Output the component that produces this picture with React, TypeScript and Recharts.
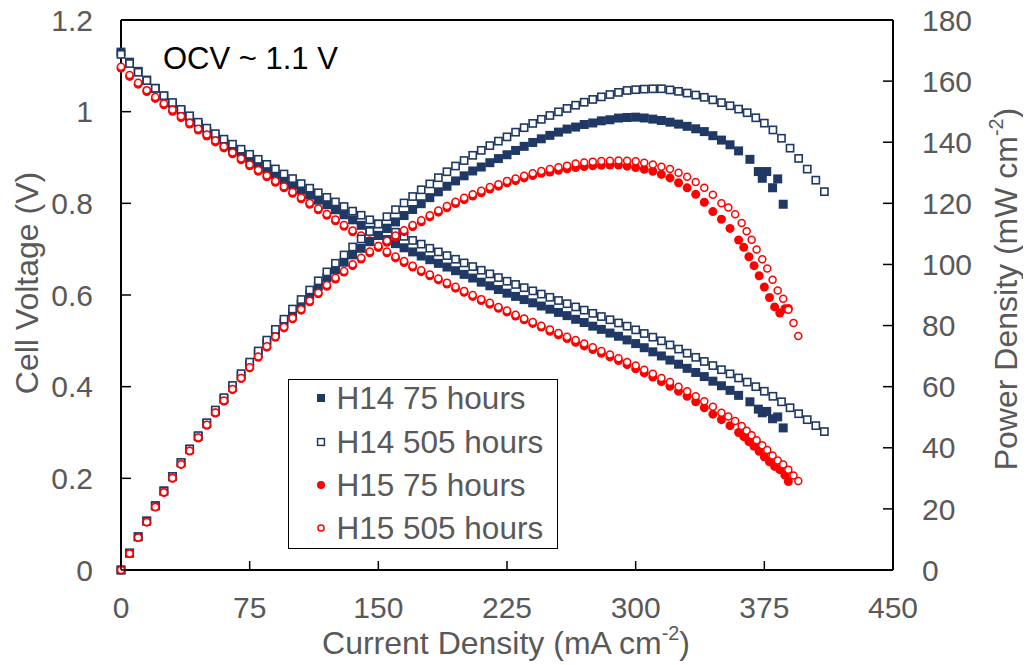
import React from 'react';
import { ScatterChart, Scatter, XAxis, YAxis, ReferenceLine } from 'recharts';

// ---------- data ----------
const CURRENT = [
  0, 5, 10, 15, 20, 25, 30, 35, 40, 45,
  50, 55, 60, 65, 70, 75, 80, 85, 90, 95,
  100, 105, 110, 115, 120, 125, 130, 135, 140, 145,
  150, 155, 160, 165, 170, 175, 180, 185, 190, 195,
  200, 205, 210, 215, 220, 225, 230, 235, 240, 245,
  250, 255, 260, 265, 270, 275, 280, 285, 290, 295,
  300, 305, 310, 315, 320, 325, 330, 335, 340, 345,
  350, 355, 360, 365, 370, 375, 380, 385, 390, 395,
  400, 405, 410,
];

const X_TICKS = [0, 75, 150, 225, 300, 375, 450];
const V_TICKS = [0, 0.2, 0.4, 0.6, 0.8, 1, 1.2];
const P_TICKS = [0, 20, 40, 60, 80, 100, 120, 140, 160, 180];

const SERIES_NAMES = ['H14 75 hours', 'H14 505 hours', 'H15 75 hours', 'H15 505 hours'];

// H14 75 hours (filled navy squares)
const H14_75_V = [
  1.130, 1.108, 1.088, 1.069, 1.051, 1.034, 1.018, 1.002, 0.987, 0.972,
  0.958, 0.945, 0.932, 0.920, 0.908, 0.896, 0.885, 0.873, 0.862, 0.851,
  0.840, 0.829, 0.818, 0.807, 0.797, 0.786, 0.775, 0.764, 0.752, 0.741,
  0.730, 0.721, 0.712, 0.703, 0.694, 0.685, 0.677, 0.669, 0.661, 0.653,
  0.645, 0.637, 0.628, 0.620, 0.612, 0.604, 0.597, 0.590, 0.583, 0.576,
  0.569, 0.562, 0.555, 0.547, 0.540, 0.532, 0.525, 0.517, 0.510, 0.502,
  0.494, 0.485, 0.476, 0.467, 0.458, 0.449, 0.440, 0.431, 0.422, 0.412,
  0.402, 0.392, 0.381,
];
const H14_75_P = [
  0, 5.54, 10.88, 16.04, 21.02, 25.85, 30.54, 35.07, 39.48, 43.74,
  47.90, 51.98, 55.92, 59.80, 63.56, 67.20, 70.80, 74.21, 77.58, 80.85,
  84.00, 87.05, 89.98, 92.81, 95.64, 98.25, 100.75, 103.14, 105.28, 107.45,
  109.50, 111.76, 113.92, 116.00, 117.98, 119.88, 121.86, 123.77, 125.59, 127.34,
  129.00, 130.59, 131.88, 133.30, 134.64, 135.90, 137.31, 138.65, 139.92, 141.12,
  142.25, 143.31, 144.30, 144.96, 145.80, 146.30, 147.00, 147.35, 147.90, 148.09,
  148.20, 147.93, 147.56, 147.11, 146.56, 145.93, 145.20, 144.39, 143.48, 142.14,
  140.70, 139.16, 137.16,
];
const H14_75_TAIL_J = [366.6, 371.5, 373.8, 376.4, 379.8, 382.8, 386];
const H14_75_TAIL_V = [0.367, 0.351, 0.343, 0.346, 0.330, 0.334, 0.310];
const H14_75_TAIL_P = [134.4, 130.4, 128.2, 130.4, 125.1, 128.0, 119.7];

// H14 505 hours (open navy squares)
const H14_505_V = [
  1.125, 1.105, 1.086, 1.068, 1.051, 1.035, 1.020, 1.005, 0.991, 0.977,
  0.964, 0.952, 0.940, 0.929, 0.918, 0.907, 0.896, 0.885, 0.875, 0.864,
  0.854, 0.843, 0.833, 0.823, 0.813, 0.803, 0.793, 0.783, 0.774, 0.764,
  0.755, 0.746, 0.737, 0.728, 0.719, 0.711, 0.702, 0.694, 0.686, 0.678,
  0.670, 0.662, 0.654, 0.646, 0.638, 0.630, 0.623, 0.616, 0.609, 0.602,
  0.595, 0.588, 0.581, 0.574, 0.567, 0.560, 0.553, 0.546, 0.539, 0.532,
  0.524, 0.516, 0.508, 0.500, 0.491, 0.482, 0.473, 0.464, 0.455, 0.446,
  0.437, 0.428, 0.419, 0.410, 0.400, 0.390, 0.379, 0.367, 0.354, 0.341,
  0.328, 0.315, 0.302,
];
const H14_505_P = [
  0, 5.53, 10.86, 16.02, 21.02, 25.88, 30.60, 35.18, 39.64, 43.97,
  48.20, 52.36, 56.40, 60.39, 64.26, 68.03, 71.68, 75.23, 78.75, 82.08,
  85.40, 88.52, 91.63, 94.65, 97.56, 100.38, 103.09, 105.71, 108.36, 110.78,
  113.25, 115.63, 117.92, 120.12, 122.23, 124.43, 126.36, 128.39, 130.34, 132.21,
  134.00, 135.71, 137.34, 138.89, 140.36, 141.75, 143.29, 144.76, 146.16, 147.49,
  148.75, 149.94, 151.06, 152.11, 153.09, 154.00, 154.84, 155.61, 156.31, 156.94,
  157.20, 157.38, 157.48, 157.50, 157.12, 156.65, 156.09, 155.44, 154.70, 153.87,
  152.95, 151.94, 150.84, 149.65, 148.00, 146.25, 144.02, 141.30, 138.06, 134.70,
  131.20, 127.58, 123.82,
];

// H15 75 hours (filled red circles)
const H15_75_V = [
  1.095, 1.077, 1.060, 1.044, 1.029, 1.015, 1.001, 0.987, 0.973, 0.960,
  0.947, 0.934, 0.921, 0.908, 0.895, 0.882, 0.870, 0.858, 0.846, 0.834,
  0.822, 0.810, 0.798, 0.786, 0.774, 0.762, 0.750, 0.738, 0.727, 0.716,
  0.704, 0.692, 0.681, 0.671, 0.661, 0.651, 0.642, 0.633, 0.624, 0.615,
  0.606, 0.597, 0.588, 0.580, 0.571, 0.563, 0.554, 0.546, 0.538, 0.530,
  0.521, 0.513, 0.505, 0.497, 0.489, 0.481, 0.473, 0.465, 0.457, 0.448,
  0.439, 0.430, 0.421, 0.411, 0.401, 0.390, 0.379, 0.367, 0.354, 0.340,
];
const H15_75_P = [
  0, 5.39, 10.60, 15.66, 20.58, 25.38, 30.03, 34.55, 38.92, 43.20,
  47.35, 51.37, 55.26, 59.02, 62.65, 66.15, 69.60, 72.93, 76.14, 79.23,
  82.20, 85.05, 87.78, 90.39, 92.88, 95.25, 97.50, 99.63, 101.78, 103.82,
  105.60, 107.26, 108.96, 110.72, 112.37, 113.93, 115.56, 117.11, 118.56, 119.93,
  121.20, 122.39, 123.48, 124.70, 125.62, 126.68, 127.42, 128.31, 129.12, 129.85,
  130.25, 130.82, 131.30, 131.71, 132.03, 132.28, 132.44, 132.53, 132.53, 132.16,
  131.70, 131.15, 130.51, 129.47, 128.32, 126.75, 125.07, 122.95, 120.36, 117.30,
];
const H15_75_TAIL_J = [350, 355, 360, 363, 366, 369, 372, 375, 378, 381, 384, 387, 389];
const H15_75_TAIL_V = [0.328, 0.315, 0.300, 0.291, 0.280, 0.270, 0.259, 0.247, 0.236, 0.226, 0.219, 0.207, 0.193];
const H15_75_TAIL_P = [114.8, 111.8, 108.0, 105.6, 102.5, 99.6, 96.3, 92.6, 89.2, 86.1, 84.1, 85.5, 85.6];

// H15 505 hours (open red circles)
const H15_505_V = [
  1.098, 1.080, 1.063, 1.047, 1.032, 1.018, 1.004, 0.990, 0.976, 0.963,
  0.950, 0.937, 0.924, 0.911, 0.898, 0.885, 0.873, 0.861, 0.849, 0.837,
  0.825, 0.813, 0.801, 0.789, 0.777, 0.765, 0.753, 0.741, 0.730, 0.719,
  0.707, 0.695, 0.684, 0.674, 0.664, 0.654, 0.645, 0.636, 0.627, 0.618,
  0.609, 0.600, 0.591, 0.583, 0.574, 0.566, 0.557, 0.549, 0.541, 0.533,
  0.525, 0.517, 0.509, 0.502, 0.494, 0.486, 0.478, 0.470, 0.462, 0.454,
  0.446, 0.437, 0.428, 0.419, 0.410, 0.400, 0.390, 0.379, 0.368, 0.356,
  0.343,
];
const H15_505_P = [
  0, 5.40, 10.63, 15.71, 20.64, 25.45, 30.12, 34.65, 39.04, 43.34,
  47.50, 51.54, 55.44, 59.22, 62.86, 66.38, 69.84, 73.19, 76.41, 79.52,
  82.50, 85.37, 88.11, 90.74, 93.24, 95.63, 97.89, 100.04, 102.20, 104.26,
  106.05, 107.73, 109.44, 111.21, 112.88, 114.45, 116.10, 117.66, 119.13, 120.51,
  121.80, 123.00, 124.11, 125.35, 126.28, 127.35, 128.11, 129.02, 129.84, 130.59,
  131.25, 131.84, 132.34, 133.03, 133.38, 133.65, 133.84, 133.95, 133.98, 133.93,
  133.80, 133.29, 132.68, 131.99, 131.20, 130.00, 128.70, 126.97, 125.12, 122.82,
  120.05,
];
const H15_505_TAIL_J = [354, 358, 361.8, 364.7, 367.6, 370.5, 373.8, 376.7, 379.8, 382.8, 386, 389, 392, 394.8];
const H15_505_TAIL_V = [0.335, 0.325, 0.314, 0.304, 0.294, 0.283, 0.272, 0.262, 0.250, 0.239, 0.230, 0.219, 0.206, 0.194];
const H15_505_TAIL_P = [118.6, 116.4, 113.6, 110.9, 108.1, 104.9, 101.7, 98.7, 95.0, 91.5, 88.8, 85.2, 80.8, 76.6];

// ---------- helpers ----------
type Pt = { x: number; y: number };
function build(vals: number[], tailJ: number[] = [], tailVals: number[] = []): Pt[] {
  const pts: Pt[] = vals.map((y, i) => ({ x: CURRENT[i], y }));
  tailJ.forEach((x, i) => pts.push({ x, y: tailVals[i] }));
  return pts;
}

const NAVY = '#1F3864';
const RED = '#FF0000';
const GRAY = '#595959';
const FONT = '"Liberation Sans", Arial, Helvetica, sans-serif';

const W = 1015;
const H = 658;
const PLOT = { left: 113, right: 885, top: 20, bottom: 570 };

const FilledSquare = (p: any) =>
  p.cx == null ? <g /> : <rect x={p.cx - 4.5} y={p.cy - 4.5} width={9} height={9} fill={NAVY} />;
const OpenSquare = (p: any) =>
  p.cx == null ? <g /> : (
    <rect x={p.cx - 3.6} y={p.cy - 3.6} width={7.2} height={7.2} fill="#fff" stroke={NAVY} strokeWidth={1.6} />
  );
const FilledCircle = (p: any) =>
  p.cx == null ? <g /> : <circle cx={p.cx} cy={p.cy} r={4.5} fill={RED} />;
const OpenCircle = (p: any) =>
  p.cx == null ? <g /> : <circle cx={p.cx} cy={p.cy} r={3.5} fill="#fff" stroke={RED} strokeWidth={1.5} />;

const XTick = (p: any) => (
  <g>
    <line x1={p.x} x2={p.x} y1={PLOT.bottom} y2={PLOT.bottom - 9} stroke="#000" strokeWidth={1.5} />
    <text x={p.x} y={PLOT.bottom + 37 + 10.7} textAnchor="middle" fontSize={30} fill={GRAY} fontFamily={FONT}>
      {String(p.payload.value)}
    </text>
  </g>
);
const LeftTick = (p: any) => (
  <g>
    <line x1={PLOT.left} x2={PLOT.left + 10} y1={p.y} y2={p.y} stroke="#000" strokeWidth={1.5} />
    <text x={PLOT.left - 28} y={p.y + 10.7} textAnchor="end" fontSize={30} fill={GRAY} fontFamily={FONT}>
      {String(p.payload.value)}
    </text>
  </g>
);
const RightTick = (p: any) => (
  <g>
    <line x1={PLOT.right} x2={PLOT.right - 10} y1={p.y} y2={p.y} stroke="#000" strokeWidth={1.5} />
    <text x={PLOT.right + 29} y={p.y + 10.7} textAnchor="start" fontSize={30} fill={GRAY} fontFamily={FONT}>
      {String(p.payload.value)}
    </text>
  </g>
);

const LegendMarker = ({ kind }: { kind: number }) => (
  <svg width={12} height={12} style={{ position: 'absolute', left: -6, top: -6 }}>
    {kind === 0 && <rect x={2} y={2} width={8} height={8} fill={NAVY} />}
    {kind === 1 && <rect x={2.6} y={2.6} width={6.8} height={6.8} fill="#fff" stroke={NAVY} strokeWidth={1.5} />}
    {kind === 2 && <circle cx={6} cy={6} r={4} fill={RED} />}
    {kind === 3 && <circle cx={6} cy={6} r={3.1} fill="#fff" stroke={RED} strokeWidth={1.5} />}
  </svg>
);

const LEGEND_ROWS = [19, 63, 106, 149];

export default function App() {
  const vH14_75 = build(H14_75_V, H14_75_TAIL_J, H14_75_TAIL_V);
  const vH14_505 = build(H14_505_V);
  const vH15_75 = build(H15_75_V, H15_75_TAIL_J, H15_75_TAIL_V);
  const vH15_505 = build(H15_505_V, H15_505_TAIL_J, H15_505_TAIL_V);
  const pH14_75 = build(H14_75_P, H14_75_TAIL_J, H14_75_TAIL_P);
  const pH14_505 = build(H14_505_P);
  const pH15_75 = build(H15_75_P, H15_75_TAIL_J, H15_75_TAIL_P);
  const pH15_505 = build(H15_505_P, H15_505_TAIL_J, H15_505_TAIL_P);

  const titleStyle: React.CSSProperties = {
    position: 'absolute',
    whiteSpace: 'nowrap',
    fontSize: 32,
    lineHeight: 1,
    color: GRAY,
  };
  const sup: React.CSSProperties = { fontSize: '0.62em', position: 'relative', top: '-0.72em' };

  return (
    <div style={{ position: 'relative', top: -8, width: W, height: H, fontFamily: FONT, background: '#fff' }}>
      <ScatterChart width={W} height={H} margin={{ top: PLOT.top, right: 0, bottom: 0, left: 0 }}>
        <XAxis
          type="number"
          dataKey="x"
          domain={[0, 450]}
          ticks={X_TICKS}
          interval={0}
          height={88}
          tickLine={false}
          axisLine={{ stroke: '#000', strokeWidth: 2 }}
          tick={XTick}
        />
        <YAxis
          yAxisId="v"
          type="number"
          dataKey="y"
          orientation="left"
          domain={[0, 1.2]}
          ticks={V_TICKS}
          interval={0}
          width={113}
          tickLine={false}
          axisLine={{ stroke: '#000', strokeWidth: 2 }}
          tick={LeftTick}
        />
        <YAxis
          yAxisId="p"
          type="number"
          dataKey="y"
          orientation="right"
          domain={[0, 180]}
          ticks={P_TICKS}
          interval={0}
          width={130}
          tickLine={false}
          axisLine={{ stroke: '#000', strokeWidth: 2 }}
          tick={RightTick}
        />
        <ReferenceLine yAxisId="v" y={1.2} stroke="#000" strokeWidth={2} />

        <Scatter name={SERIES_NAMES[0]} yAxisId="v" data={vH14_75} shape={FilledSquare} isAnimationActive={false} />
        <Scatter name={SERIES_NAMES[1]} yAxisId="v" data={vH14_505} shape={OpenSquare} isAnimationActive={false} />
        <Scatter name={SERIES_NAMES[2]} yAxisId="v" data={vH15_75} shape={FilledCircle} isAnimationActive={false} />
        <Scatter name={SERIES_NAMES[3]} yAxisId="v" data={vH15_505} shape={OpenCircle} isAnimationActive={false} />
        <Scatter name={SERIES_NAMES[0]} yAxisId="p" data={pH14_75} shape={FilledSquare} isAnimationActive={false} />
        <Scatter name={SERIES_NAMES[1]} yAxisId="p" data={pH14_505} shape={OpenSquare} isAnimationActive={false} />
        <Scatter name={SERIES_NAMES[2]} yAxisId="p" data={pH15_75} shape={FilledCircle} isAnimationActive={false} />
        <Scatter name={SERIES_NAMES[3]} yAxisId="p" data={pH15_505} shape={OpenCircle} isAnimationActive={false} />
      </ScatterChart>

      {/* axis titles */}
      <div style={{ ...titleStyle, left: 19, top: 283, transform: 'translate(-50%, -50%) rotate(-90deg)' }}>
        Cell Voltage (V)
      </div>
      <div style={{ ...titleStyle, left: 998, top: 289, transform: 'translate(-50%, -50%) rotate(-90deg)' }}>
        Power Density (mW cm<span style={sup}>-2</span>)
      </div>
      <div style={{ ...titleStyle, left: 498, top: 643, transform: 'translate(-50%, -50%)' }}>
        Current Density (mA cm<span style={sup}>-2</span>)
      </div>

      {/* annotation */}
      <div style={{ position: 'absolute', left: 155, top: 42.5, fontSize: 31, lineHeight: 1, color: '#000', whiteSpace: 'nowrap' }}>
        OCV ~ 1.1 V
      </div>

      {/* legend */}
      <div
        style={{
          position: 'absolute',
          left: 280,
          top: 379,
          width: 270,
          height: 170,
          boxSizing: 'border-box',
          border: '1.5px solid #000',
          background: '#fff',
        }}
      >
        {SERIES_NAMES.map((name, i) => (
          <div key={name}>
            <div style={{ position: 'absolute', left: 33 - 1.5, top: LEGEND_ROWS[i] - 1.5 }}>
              <LegendMarker kind={i} />
            </div>
            <div
              style={{
                position: 'absolute',
                left: 49 - 1.5,
                top: LEGEND_ROWS[i] - 1.5 - 16,
                fontSize: 31.5,
                lineHeight: '32px',
                color: GRAY,
                whiteSpace: 'nowrap',
              }}
            >
              {name}
            </div>
          </div>
        ))}
      </div>
    </div>
  );
}
